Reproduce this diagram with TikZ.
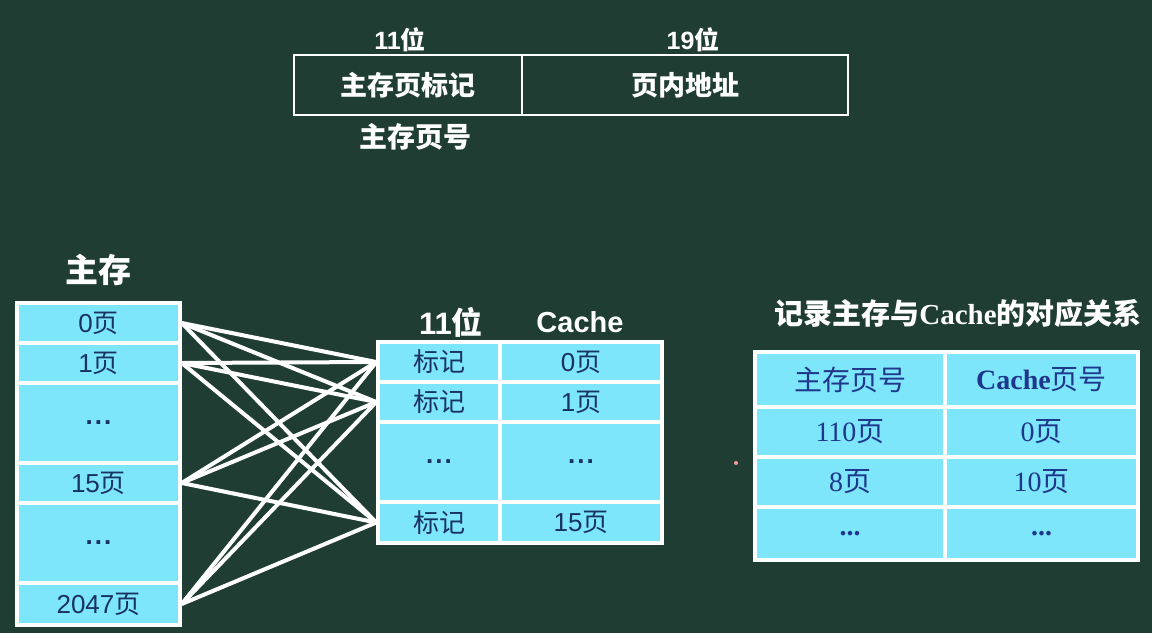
\documentclass[tikz,border=0pt]{standalone}
\usepackage{fontspec}
\setmainfont{Liberation Sans}
\newfontfamily\cjk{Noto Sans CJK SC}
\newfontfamily\ser{Liberation Serif}
\definecolor{bg}{RGB}{31,61,51}
\definecolor{cellc}{RGB}{125,230,250}
\definecolor{celltext}{RGB}{25,50,100}
\definecolor{tabtext}{RGB}{30,55,140}
\newcommand{\fs}[1]{\fontsize{#1}{#1}\selectfont}
\newcommand{\dts}{\fs{26}\bfseries .\hspace{2pt}.\hspace{2pt}.}
\begin{document}
\begin{tikzpicture}[x=1pt,y=-1pt,
  cell/.style={draw=white, line width=3.5pt, fill=cellc, text=celltext, inner sep=0pt, font=\fs{26}},
  rcell/.style={draw=white, line width=3.5pt, fill=cellc, text=tabtext, inner sep=0pt, font=\fs{28}},
  fmt/.style={draw=white, line width=2.5pt, inner sep=0pt, text=white, font=\fs{27}\bfseries},
  lbl/.style={text=white, inner sep=0pt, font=\bfseries},
  link/.style={draw=white, line width=4pt}
]
\fill[bg] (0,0) rectangle (1152,633);
\useasboundingbox (0,0) rectangle (1152,633);

% address format
\node[fmt, minimum width=228pt, minimum height=60pt] (tag) at (408,85) {\cjk\bfseries 主存页标记};
\node[fmt, minimum width=326pt, minimum height=60pt] (off) at (685,85) {\cjk\bfseries 页内地址};
\node[lbl, font=\fs{25}\bfseries] (b11) at (400,40) {11{\cjk\bfseries 位}};
\node[lbl, font=\fs{25}\bfseries] (b19) at (693,40) {19{\cjk\bfseries 位}};
\node[lbl, font=\fs{28}\bfseries] (pno) at (415,137) {\cjk\bfseries 主存页号};

% main memory
\node[lbl, font=\fs{33}\bfseries] (mmt) at (98,270) {\cjk\bfseries 主存};
\node[cell, minimum width=163pt, minimum height=40pt] (m0) at (98.5,323) {0{\cjk 页}};
\node[cell, minimum width=163pt, minimum height=40pt] (m1) at (98.5,363) {1{\cjk 页}};
\node[cell, minimum width=163pt, minimum height=80pt] (md1) at (98.5,423) {\dts};
\node[cell, minimum width=163pt, minimum height=40pt] (m15) at (98.5,483) {15{\cjk 页}};
\node[cell, minimum width=163pt, minimum height=80pt] (md2) at (98.5,543) {\dts};
\node[cell, minimum width=163pt, minimum height=42pt] (m2047) at (98.5,604) {2047{\cjk 页}};

% cache
\node[lbl, font=\fs{31}\bfseries] (c11) at (451,322) {11{\cjk\bfseries 位}};
\node[lbl, font=\fs{29}\bfseries] (cch) at (580,322) {Cache};
\node[cell, minimum width=122pt, minimum height=40pt] (c0t) at (439,362) {\cjk 标记};
\node[cell, minimum width=162pt, minimum height=40pt] (c0p) at (581,362) {0{\cjk 页}};
\node[cell, minimum width=122pt, minimum height=40pt] (c1t) at (439,402) {\cjk 标记};
\node[cell, minimum width=162pt, minimum height=40pt] (c1p) at (581,402) {1{\cjk 页}};
\node[cell, minimum width=122pt, minimum height=80pt] (cdt) at (439,462) {\dts};
\node[cell, minimum width=162pt, minimum height=80pt] (cdp) at (581,462) {\dts};
\node[cell, minimum width=122pt, minimum height=41pt] (c15t) at (439,522.5) {\cjk 标记};
\node[cell, minimum width=162pt, minimum height=41pt] (c15p) at (581,522.5) {15{\cjk 页}};

% links
\foreach \m in {m0,m1,m15,m2047}
  \foreach \c in {c0t,c1t,c15t}
    \draw[link] (\m.east) -- (\c.west);

% mapping table
\node[lbl, font=\fs{29}\bfseries] (rt) at (958,313) {{\cjk\bfseries 记录主存与}{\ser\bfseries Cache}{\cjk\bfseries 的对应关系}};
\node[rcell, minimum width=190pt, minimum height=55pt] (r0a) at (850,379.5) {\cjk 主存页号};
\node[rcell, minimum width=193pt, minimum height=55pt] (r0b) at (1041.5,379.5) {{\ser\bfseries Cache}{\cjk 页号}};
\node[rcell, minimum width=190pt, minimum height=50pt] (r1a) at (850,432) {{\ser 110}{\cjk 页}};
\node[rcell, minimum width=193pt, minimum height=50pt] (r1b) at (1041.5,432) {{\ser 0}{\cjk 页}};
\node[rcell, minimum width=190pt, minimum height=50pt] (r2a) at (850,482) {{\ser 8}{\cjk 页}};
\node[rcell, minimum width=193pt, minimum height=50pt] (r2b) at (1041.5,482) {{\ser 10}{\cjk 页}};
\node[rcell, minimum width=190pt, minimum height=53pt] (r3a) at (850,533.5) {\ser\bfseries ...};
\node[rcell, minimum width=193pt, minimum height=53pt] (r3b) at (1041.5,533.5) {\ser\bfseries ...};

% small dot
\fill[red!40!white] (736,463) circle (2pt);
\end{tikzpicture}
\end{document}
